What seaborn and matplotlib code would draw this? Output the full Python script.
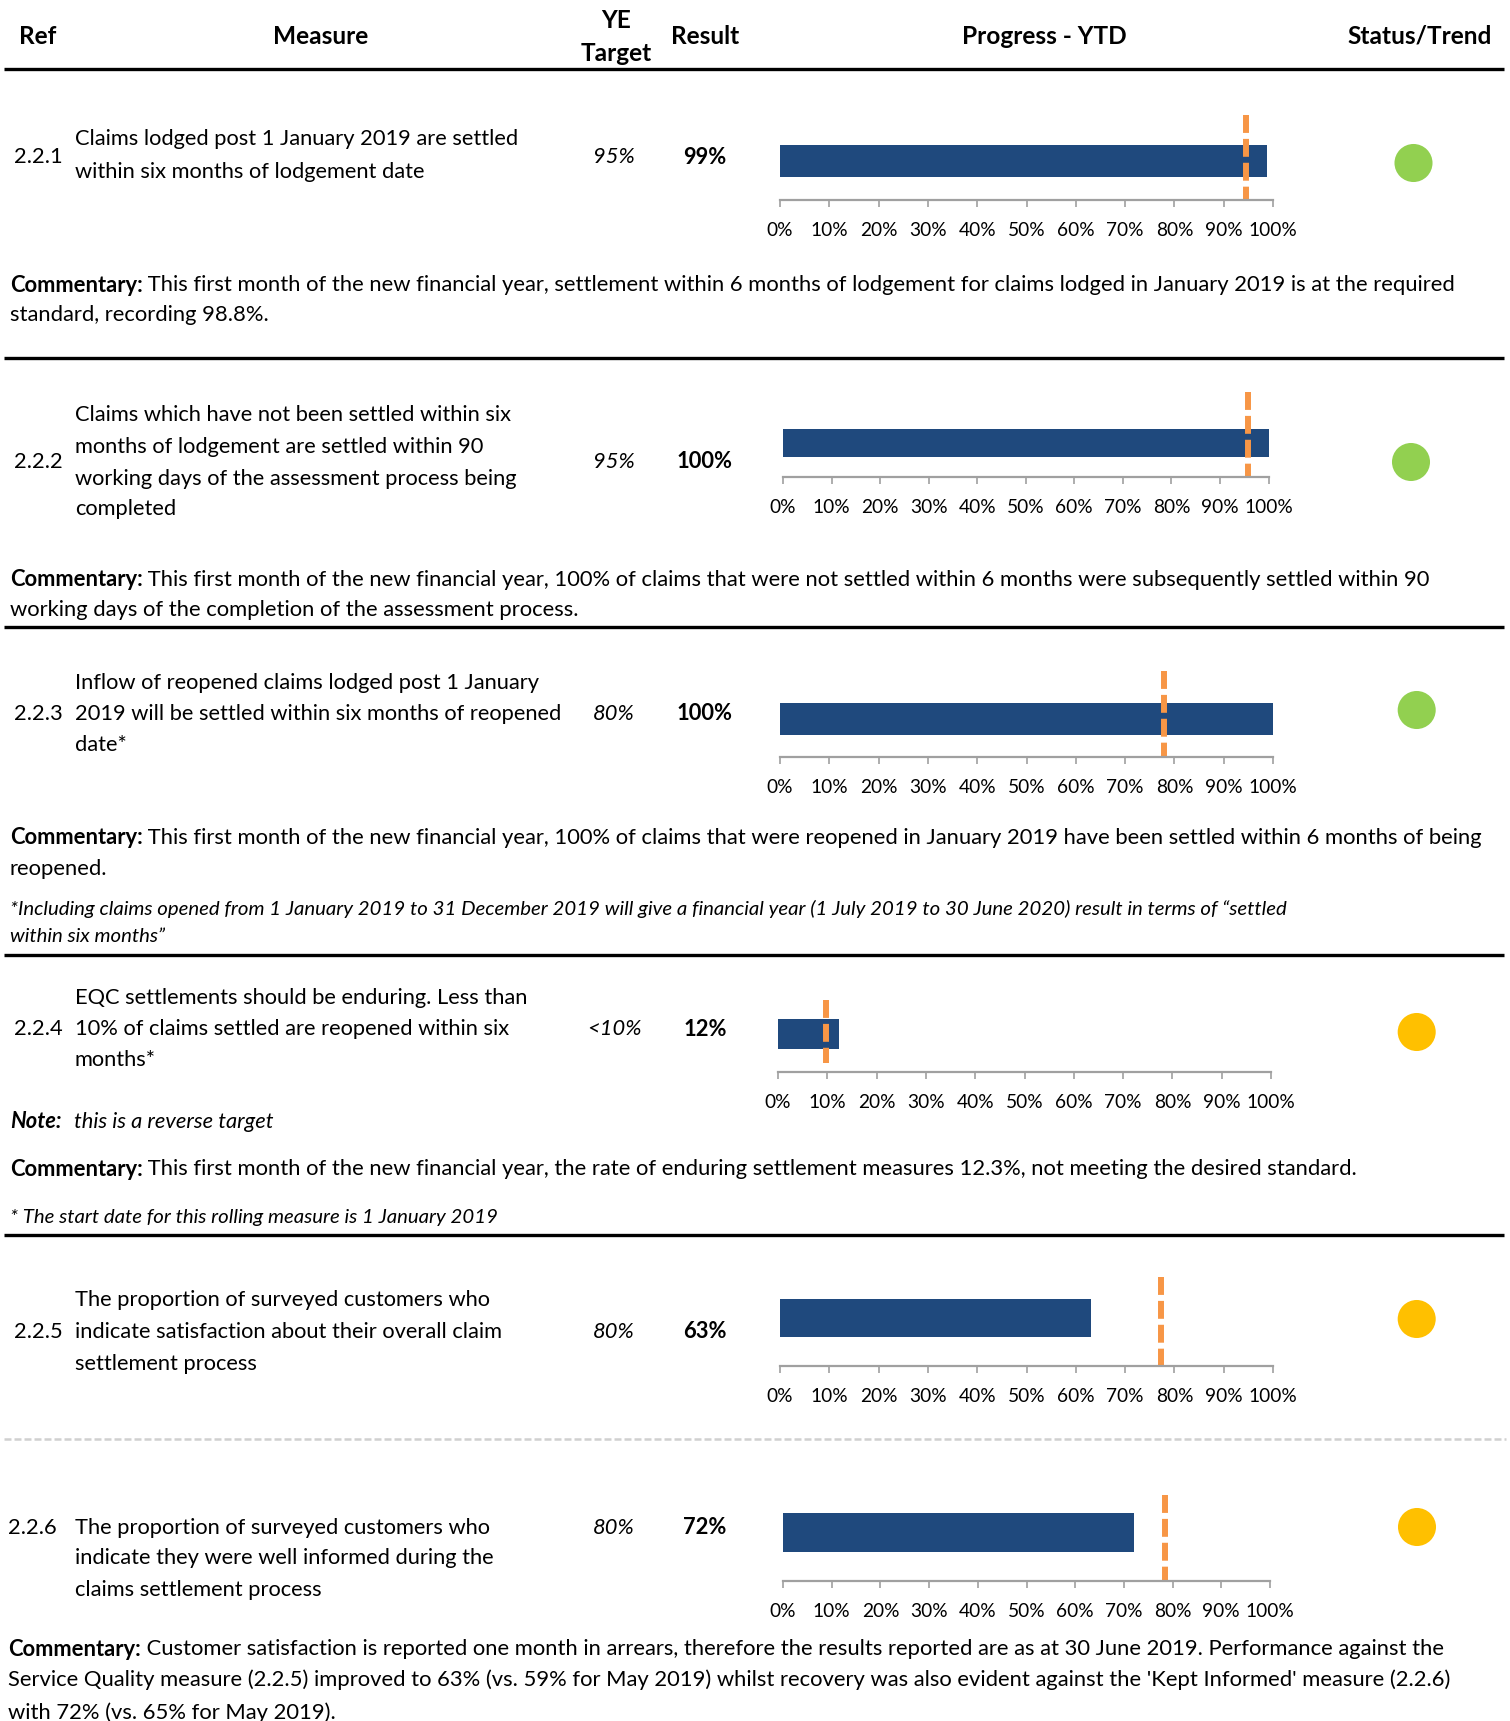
import numpy as np
import pandas as pd
import matplotlib
matplotlib.use("Agg")
import matplotlib.pyplot as plt
import seaborn as sns

sns.set_theme(style="white")
plt.rcParams['font.family'] = ['Lato', 'DejaVu Sans']

# ---------------- data ----------------
refs = ["2.2.1", "2.2.2", "2.2.3", "2.2.4", "2.2.5", "2.2.6"]
measures = [
    ["Claims lodged post 1 January 2019 are settled",
     "within six months of lodgement date"],
    ["Claims which have not been settled within six",
     "months of lodgement are settled within 90",
     "working days of the assessment process being",
     "completed"],
    ["Inflow of reopened claims lodged post 1 January",
     "2019 will be settled within six months of reopened",
     "date*"],
    ["EQC settlements should be enduring. Less than",
     "10% of claims settled are reopened within six",
     "months*"],
    ["The proportion of surveyed customers who",
     "indicate satisfaction about their overall claim",
     "settlement process"],
    ["The proportion of surveyed customers who",
     "indicate they were well informed during the",
     "claims settlement process"],
]
target_labels = ["95%", "95%", "80%", "<10%", "80%", "80%"]
result_labels = ["99%", "100%", "100%", "12%", "63%", "72%"]
result_values = [0.988, 1.00, 1.00, 0.123, 0.631, 0.72]
target_marks = [0.945, 0.958, 0.778, 0.097, 0.773, 0.784]
status = ["green", "green", "green", "amber", "amber", "amber"]
status_colors = {"green": "#92D050", "amber": "#FFC000"}
tick_values = [0.0, 0.1, 0.2, 0.3, 0.4, 0.5, 0.6, 0.7, 0.8, 0.9, 1.0]
tick_labels = ["0%", "10%", "20%", "30%", "40%", "50%", "60%", "70%", "80%", "90%", "100%"]

headers = ["Ref", "Measure", "YE\nTarget", "Result", "Progress - YTD", "Status/Trend"]

commentary = [
    ["This first month of the new financial year, settlement within 6 months of lodgement for claims lodged in January 2019 is at the required",
     "standard, recording 98.8%."],
    ["This first month of the new financial year, 100% of claims that were not settled within 6 months were subsequently settled within 90",
     "working days of the completion of the assessment process."],
    ["This first month of the new financial year, 100% of claims that were reopened in January 2019 have been settled within 6 months of being",
     "reopened."],
    ["This first month of the new financial year, the rate of enduring settlement measures 12.3%, not meeting the desired standard."],
    [],
    ["Customer satisfaction is reported one month in arrears, therefore the results reported are as at 30 June 2019. Performance against the",
     "Service Quality measure (2.2.5) improved to 63% (vs. 59% for May 2019) whilst recovery was also evident against the 'Kept Informed' measure (2.2.6)",
     "with 72% (vs. 65% for May 2019)."],
]
footnote_223 = ["*Including claims opened from 1 January 2019 to 31 December 2019 will give a financial year (1 July 2019 to 30 June 2020) result in terms of \u201csettled",
                "within six months\u201d"]
footnote_224 = "* The start date for this rolling measure is 1 January 2019"
note_224 = ("Note:", "this is a reverse target")

# ---------------- layout (pixels) ----------------
W, H = 1510, 1721
NAVY = "#1F497D"
ORANGE = "#F79646"
GRAY = "#A0A0A0"

rows = [
    dict(ref_x=13.6, mid=155, lines=[137, 170], com=[283, 313], com_x=9.7,
         ax_l=780, ax_r=1273, t_top=115, bar_t=145, bar_b=177, axis_y=200, t_bot=200, circ=(1413.5, 163)),
    dict(ref_x=13.6, mid=460, lines=[413, 445, 477, 507], com=[578, 608], com_x=9.7,
         ax_l=783, ax_r=1268.5, t_top=392, bar_t=429, bar_b=457, axis_y=477, t_bot=477, circ=(1411, 462)),
    dict(ref_x=13.6, mid=712, lines=[681, 712, 743], com=[836, 867], com_x=9.7,
         ax_l=780, ax_r=1273, t_top=671, bar_t=703, bar_b=735, axis_y=757, t_bot=757, circ=(1416.7, 710)),
    dict(ref_x=13.6, mid=1027, lines=[996, 1027, 1058], com=[1167], com_x=9.7,
         ax_l=778, ax_r=1271, t_top=1000, bar_t=1019, bar_b=1049, axis_y=1072, t_bot=1063, circ=(1416.7, 1032)),
    dict(ref_x=13.6, mid=1330, lines=[1298, 1330, 1362], com=[], com_x=9.7,
         ax_l=780, ax_r=1273, t_top=1277, bar_t=1299, bar_b=1337, axis_y=1366, t_bot=1366, circ=(1416.7, 1319)),
    dict(ref_x=7.7, mid=1526, lines=[1526, 1556, 1588], com=[1647, 1678, 1711], com_x=8.5,
         ax_l=783, ax_r=1270, t_top=1495, bar_t=1513, bar_b=1552, axis_y=1581, t_bot=1581, circ=(1417, 1527)),
]

fig = plt.figure(figsize=(W / 100, H / 100), dpi=100)
fig.patch.set_facecolor("white")
bg = fig.add_axes([0, 0, 1, 1])
bg.set_xlim(0, W)
bg.set_ylim(H, 0)
bg.axis("off")
renderer = fig.canvas.get_renderer()


def rect(l, t, r, b):
    return [l / W, 1 - b / H, (r - l) / W, (b - t) / H]


def text_w(s, **kw):
    t = bg.text(0, 0, s, **kw)
    w = t.get_window_extent(renderer).width
    t.remove()
    return w


def fit(s, target, **kw):
    return 20 * target / text_w(s, fontsize=20, **kw)


FS = fit("Claims lodged post 1 January 2019 are settled", 444)
_cw = text_w("Commentary:", fontsize=20, weight="bold") + text_w(" " + commentary[0][0], fontsize=20)
FS_COM = 20 * 1453 / _cw
FS_FOOT = fit(footnote_223[0], 1276, style="italic")
FS_TICK = fit("100%", 48.5)
FS_HEAD = fit("Status/Trend", 144, weight="bold")


def mixed(x, y, parts, fs):
    for s, kw in parts:
        bg.text(x, y, s, va="center_baseline", ha="left", fontsize=fs, color="black", **kw)
        x += text_w(s, fontsize=fs, **kw)


# header
hx = [37.6, 321, 616.5, 705, 1044, 1420]
for x, h in zip(hx, headers):
    if "\n" in h:
        a, b = h.split("\n")
        bg.text(x, 18.5, a, ha="center", va="center_baseline", fontsize=FS_HEAD, weight="bold", color="black")
        bg.text(x, 51.7, b, ha="center", va="center_baseline", fontsize=FS_HEAD, weight="bold", color="black")
    else:
        bg.text(x, 34.3, h, ha="center", va="center_baseline", fontsize=FS_HEAD, weight="bold", color="black")

# separators
for y in [69.3, 357.8, 626.7, 955, 1235]:
    bg.plot([4, 1504], [y, y], color="black", lw=2.4, solid_capstyle="butt")
bg.plot([4, 1506], [1439, 1439], color="#D0D0D0", lw=1.8, dashes=(2.8, 1.2))

df = pd.DataFrame({"ref": refs, "result": result_values, "target": target_marks, "status": status})

for i, L in enumerate(rows):
    # text columns
    bg.text(L["ref_x"], L["mid"], refs[i], ha="left", va="center_baseline", fontsize=FS, color="black")
    for y, s in zip(L["lines"], measures[i]):
        bg.text(75, y, s, ha="left", va="center_baseline", fontsize=FS, color="black")
    bg.text(614, L["mid"], target_labels[i], ha="center", va="center_baseline", fontsize=FS, style="italic", color="black")
    bg.text(705, L["mid"], result_labels[i], ha="center", va="center_baseline", fontsize=FS, weight="bold", color="black")
    for j, (y, s) in enumerate(zip(L["com"], commentary[i])):
        if j == 0:
            mixed(L["com_x"], y, [("Commentary:", dict(weight="bold")), (" " + s, dict())], FS_COM)
        else:
            bg.text(L["com_x"], y, s, ha="left", va="center_baseline", fontsize=FS_COM, color="black")

    # bar chart
    ax = fig.add_axes(rect(L["ax_l"], L["t_top"], L["ax_r"], L["axis_y"]))
    ax.patch.set_alpha(0)
    sns.barplot(data=df.iloc[[i]], x="result", y="ref", orient="h", color=NAVY,
                saturation=1, width=1, ax=ax, linewidth=0)
    ax.set_xlim(0, 1)
    bh = L["bar_b"] - L["bar_t"]
    y_top = -0.5 - (L["bar_t"] - L["t_top"]) / bh
    y_bot = 0.5 + (L["axis_y"] - L["bar_b"]) / bh
    ax.set_ylim(y_bot, y_top)
    ax.set_xticks(tick_values)
    ax.set_xticklabels(tick_labels)
    ax.set_yticks([])
    ax.set_xlabel("")
    ax.set_ylabel("")
    for sp in ["left", "top", "right"]:
        ax.spines[sp].set_visible(False)
    ax.spines["bottom"].set_color(GRAY)
    ax.spines["bottom"].set_linewidth(1.6)
    ax.tick_params(axis="x", bottom=True, direction="out", length=5, width=1.2, color=GRAY,
                   pad=10.6, labelsize=FS_TICK, labelcolor="black")
    frac = (L["axis_y"] - L["t_bot"]) / (L["axis_y"] - L["t_top"])
    ax.plot([df["target"][i]] * 2, [1, frac], transform=ax.get_xaxis_transform(),
            color=ORANGE, lw=4.3, dashes=(3, 1), dash_capstyle="butt", clip_on=False)

    # status circle
    cx, cy = L["circ"]
    sax = fig.add_axes(rect(cx - 40, cy - 40, cx + 40, cy + 40))
    sax.patch.set_alpha(0)
    sns.scatterplot(x=[0], y=[0], color=status_colors[df["status"][i]], s=750,
                    edgecolor="none", ax=sax, legend=False)
    sax.set_xlim(-1, 1)
    sax.set_ylim(-1, 1)
    sax.axis("off")

# footnotes and notes
for y, s in zip([907, 935], footnote_223):
    bg.text(9.7, y, s, ha="left", va="center_baseline", fontsize=FS_FOOT, style="italic", color="black")
bg.text(9.7, 1120, note_224[0], ha="left", va="center_baseline", fontsize=FS, style="italic", weight="bold", color="black")
bg.text(73.7, 1120, note_224[1], ha="left", va="center_baseline", fontsize=FS, style="italic", color="black")
bg.text(9.7, 1216, footnote_224, ha="left", va="center_baseline", fontsize=FS_FOOT, style="italic", color="black")

fig.savefig("out.png", dpi=100, facecolor="white")
